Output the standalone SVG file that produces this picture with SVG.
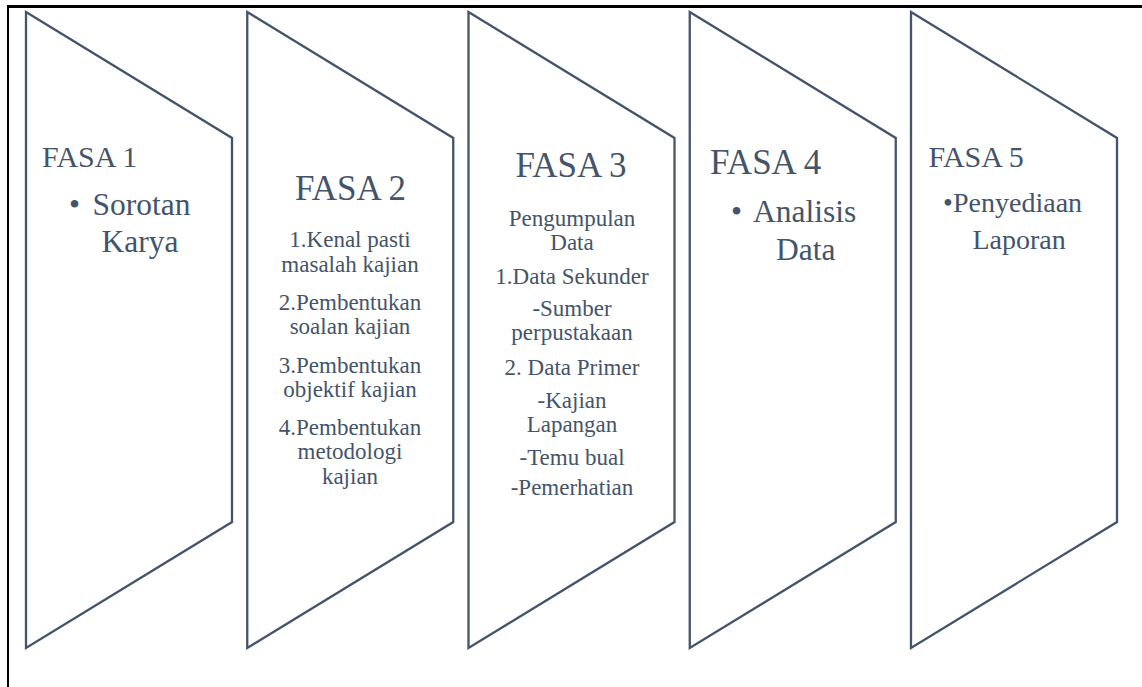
<svg xmlns="http://www.w3.org/2000/svg" width="1142" height="687" viewBox="0 0 1142 687">
  <defs>
    <style>
      .phase { fill: #ffffff; stroke: #44546A; stroke-width: 2.3; stroke-linejoin: miter; }
      .t { font-family: 'Liberation Serif', 'Times New Roman', serif; fill: #44546A; }
      .head { font-size: 35px; }
      .head-s { font-size: 30px; }
      .body { font-size: 23px; text-anchor: middle; }
      .big { font-size: 31.5px; }
      .mid { font-size: 28px; }
      .c { text-anchor: middle; }
    </style>
    <!-- pentagon-like arrow panel, origin at its top-left corner -->
    <path id="panel" d="M0,0 L206,126 L206,510 L0,636 Z"/>
  </defs>
  <rect width="1142" height="687" fill="#ffffff"/>

  <!-- page frame -->
  <rect x="7" y="5" width="1135" height="3" fill="#000000"/>
  <rect x="7" y="5" width="2" height="682" fill="#000000"/>

  <g id="connectors"></g>

  <g id="fasa1">
    <use href="#panel" class="phase" x="26" y="12"/>
    <text class="t head-s" x="42" y="167">FASA 1</text>
    <text class="t big" x="69" y="215">•</text>
    <text class="t big" x="92.5" y="215">Sorotan</text>
    <text class="t big" x="101.5" y="252">Karya</text>
  </g>

  <g id="fasa2">
    <use href="#panel" class="phase" x="247.25" y="12"/>
    <text class="t head c" x="350.5" y="200">FASA 2</text>
    <text class="t body" x="350" y="247">1.Kenal pasti</text>
    <text class="t body" x="350" y="271.5">masalah kajian</text>
    <text class="t body" x="350" y="310">2.Pembentukan</text>
    <text class="t body" x="350" y="334">soalan kajian</text>
    <text class="t body" x="350" y="372.5">3.Pembentukan</text>
    <text class="t body" x="350" y="396.5">objektif kajian</text>
    <text class="t body" x="350" y="435">4.Pembentukan</text>
    <text class="t body" x="350" y="459">metodologi</text>
    <text class="t body" x="350" y="483.5">kajian</text>
  </g>

  <g id="fasa3">
    <use href="#panel" class="phase" x="468.5" y="12"/>
    <text class="t head c" x="571" y="177">FASA 3</text>
    <text class="t body" x="572" y="226">Pengumpulan</text>
    <text class="t body" x="572" y="250">Data</text>
    <text class="t body" x="572" y="283.5">1.Data Sekunder</text>
    <text class="t body" x="572" y="316">-Sumber</text>
    <text class="t body" x="572" y="340">perpustakaan</text>
    <text class="t body" x="572" y="374.5">2. Data Primer</text>
    <text class="t body" x="572" y="407.5">-Kajian</text>
    <text class="t body" x="572" y="431.5">Lapangan</text>
    <text class="t body" x="572" y="465">-Temu bual</text>
    <text class="t body" x="572" y="495">-Pemerhatian</text>
  </g>

  <g id="fasa4">
    <use href="#panel" class="phase" x="689.75" y="12"/>
    <text class="t head" x="710" y="173.5">FASA 4</text>
    <text class="t big" x="731" y="221.5">•</text>
    <text class="t big" x="753" y="221.5">Analisis</text>
    <text class="t big" x="776" y="259.5">Data</text>
  </g>

  <g id="fasa5">
    <use href="#panel" class="phase" x="911" y="12"/>
    <text class="t head-s" x="928.5" y="166.5">FASA 5</text>
    <text class="t mid" x="943" y="211.5">•</text>
    <text class="t mid" x="953" y="211.5">Penyediaan</text>
    <text class="t mid" x="972.5" y="248.5">Laporan</text>
  </g>
</svg>
